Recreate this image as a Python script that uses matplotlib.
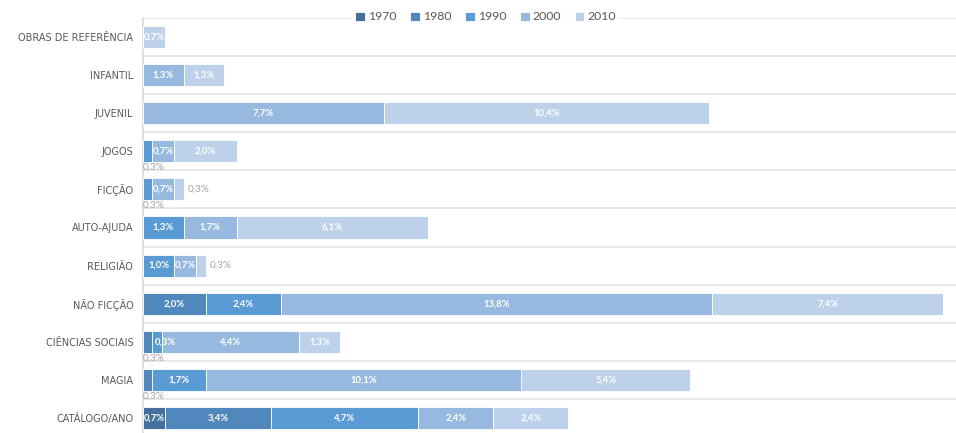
import numpy as np
import matplotlib
matplotlib.use("Agg")
import matplotlib.pyplot as plt

plt.rcParams['font.family'] = ['Lato', 'DejaVu Sans']

categories = ["OBRAS DE REFERÊNCIA", "INFANTIL", "JUVENIL", "JOGOS", "FICÇÃO",
              "AUTO-AJUDA", "RELIGIÃO", "NÃO FICÇÃO", "CIÊNCIAS SOCIAIS", "MAGIA",
              "CATÁLOGO/ANO"]
series_names = ["1970", "1980", "1990", "2000", "2010"]
s1970 = [0, 0, 0, 0, 0, 0, 0, 0, 0, 0, 0.7]
s1980 = [0, 0, 0, 0, 0, 0, 0, 2.0, 0.3, 0.3, 3.4]
s1990 = [0, 0, 0, 0.3, 0.3, 1.3, 1.0, 2.4, 0.3, 1.7, 4.7]
s2000 = [0, 1.3, 7.7, 0.7, 0.7, 1.7, 0.7, 13.8, 4.4, 10.1, 2.4]
s2010 = [0.7, 1.3, 10.4, 2.0, 0.3, 6.1, 0.3, 7.4, 1.3, 5.4, 2.4]
colors = ["#44709d", "#5088bd", "#5b9bd5", "#97b9e0", "#bdd1ea"]

series = [s1970, s1980, s1990, s2000, s2010]

W, H = 956, 433
fig = plt.figure(figsize=(W / 100, H / 100), dpi=100)
ax_left, ax_right, ax_top, ax_bot = 143, 956, 18, 437
ax = fig.add_axes([ax_left / W, (H - ax_bot) / H, (ax_right - ax_left) / W, (ax_bot - ax_top) / H])

y = np.arange(len(categories))
bar_h = 0.58
left = np.zeros(len(categories))
handles = []
for name, vals, c in zip(series_names, series, colors):
    vals = np.array(vals, dtype=float)
    b = ax.barh(y, vals, left=left, height=bar_h, color=c, edgecolor="white",
                linewidth=0.6, label=name, zorder=3)
    handles.append(b)
    left = left + vals

# data labels
for i in range(len(categories)):
    row = [s[i] for s in series]
    nz = [k for k, v in enumerate(row) if v > 0]
    start = 0.0
    for k, v in enumerate(row):
        if v <= 0:
            continue
        txt = f"{v:.1f}%".replace(".", ",")
        if v < 0.5 and k == nz[0] and len(nz) > 1:
            ax.text(start, i + bar_h / 2 + 0.01, txt, ha="left", va="top",
                    fontsize=7.2, color="#a6a6a6", zorder=4)
        elif v < 0.5 and k == nz[-1]:
            ax.text(start + v + 0.12, i, txt, ha="left", va="center",
                    fontsize=7.2, color="#a6a6a6", zorder=4)
        elif v < 0.5:
            ax.text(start + v * 0.25, i, txt, ha="left", va="center",
                    fontsize=6.8, color="white", fontweight="bold", zorder=4)
        else:
            ax.text(start + v / 2, i, txt, ha="center", va="center",
                    fontsize=6.8, color="white", fontweight="bold", zorder=4)
        start += v

ax.set_ylim(len(categories) - 0.5, -0.5)
ax.set_xlim(0, 26)
for yy in np.arange(-0.5, len(categories) + 0.5, 1):
    ax.axhline(yy, color="#e7e7e7", linewidth=1.4, zorder=1)

for s in ["top", "right", "bottom"]:
    ax.spines[s].set_visible(False)
ax.spines["left"].set_color("#d9d9d9")
ax.spines["left"].set_linewidth(1.2)

ax.set_xticks([])
ax.set_yticks(y)
ax.set_yticklabels(categories, fontsize=7.0, color="#595959", family="DejaVu Sans")
ax.tick_params(axis="y", length=0, pad=7)

leg = fig.legend(handles=handles, labels=series_names, loc="center",
                 bbox_to_anchor=(0.508, 1 - 17 / H), ncol=5, frameon=True,
                 fontsize=8.8, handlelength=0.8, handleheight=0.8,
                 handletextpad=0.25, columnspacing=1.1, borderpad=0.3)
leg.get_frame().set_facecolor("white")
leg.get_frame().set_edgecolor("white")
for t in leg.get_texts():
    t.set_color("#595959")

fig.savefig("out.png", dpi=100)
